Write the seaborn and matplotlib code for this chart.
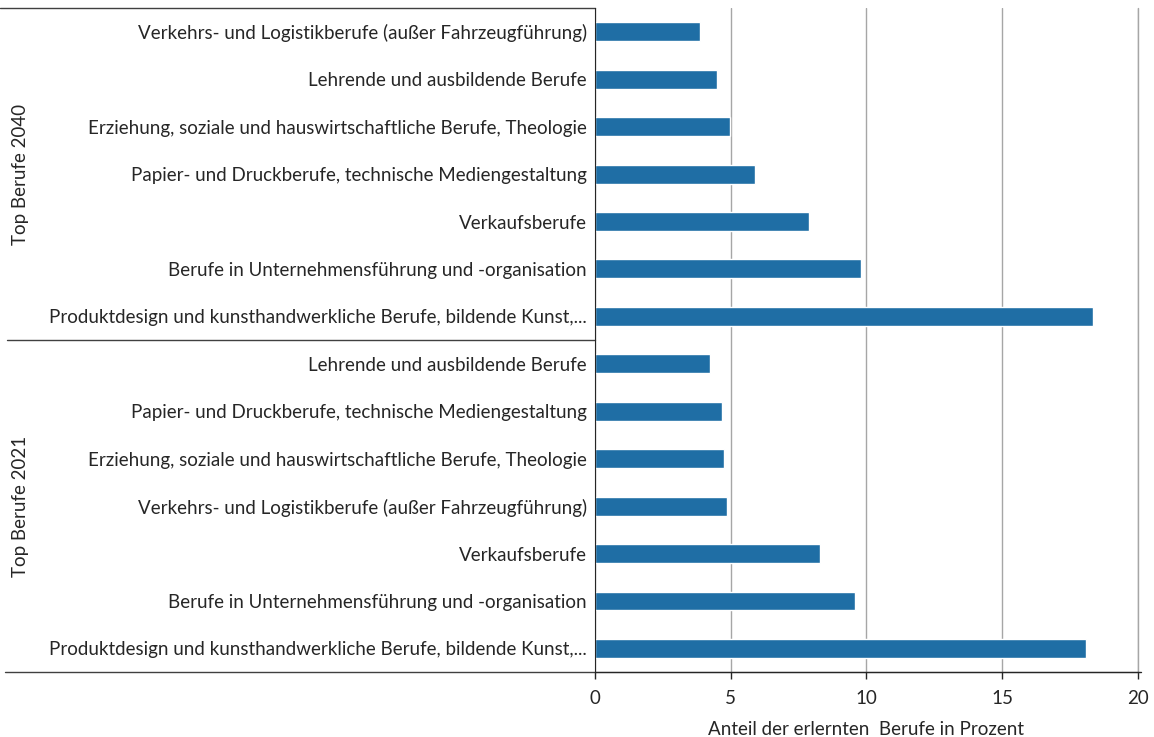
import pandas as pd
import matplotlib.pyplot as plt
import matplotlib.transforms as mtransforms
import seaborn as sns

groups = ['Top Berufe 2040'] * 7 + ['Top Berufe 2021'] * 7
berufe = [
    'Verkehrs- und Logistikberufe (außer Fahrzeugführung)',
    'Lehrende und ausbildende Berufe',
    'Erziehung, soziale und hauswirtschaftliche Berufe, Theologie',
    'Papier- und Druckberufe, technische Mediengestaltung',
    'Verkaufsberufe',
    'Berufe in Unternehmensführung und -organisation',
    'Produktdesign und kunsthandwerkliche Berufe, bildende Kunst,...',
    'Lehrende und ausbildende Berufe',
    'Papier- und Druckberufe, technische Mediengestaltung',
    'Erziehung, soziale und hauswirtschaftliche Berufe, Theologie',
    'Verkehrs- und Logistikberufe (außer Fahrzeugführung)',
    'Verkaufsberufe',
    'Berufe in Unternehmensführung und -organisation',
    'Produktdesign und kunsthandwerkliche Berufe, bildende Kunst,...',
]
anteil = [3.85, 4.49, 4.97, 5.88, 7.90, 9.80, 18.33,
          4.22, 4.67, 4.77, 4.86, 8.30, 9.57, 18.09]

df = pd.DataFrame({'gruppe': groups, 'beruf': berufe, 'anteil': anteil})
df['key'] = df['gruppe'] + '|' + df['beruf']

sns.set_style('white')
plt.rcParams['font.family'] = ['Lato', 'DejaVu Sans']
fs = 13.5

fig = plt.figure(figsize=(11.54, 7.37), dpi=100)
ax = fig.add_axes([0.5156, 0.088, 0.4705, 0.901])

sns.barplot(data=df, x='anteil', y='key', order=list(df['key']),
            color='#1f6ea5', saturation=1, width=0.4, ax=ax, zorder=3)

ax.set_xlim(0, 20)
ax.set_ylim(len(df) - 0.5, -0.5)
ax.set_xticks([0, 5, 10, 15, 20])
ax.xaxis.grid(True, color='#a6a6a6', linewidth=1)
ax.axvline(20, color='#a6a6a6', linewidth=1, clip_on=False, zorder=1)
ax.set_axisbelow(True)
ax.set_yticks(range(len(df)))
ax.set_yticklabels(df['beruf'], fontsize=fs, color='#262626')
ax.tick_params(axis='y', length=0, pad=6)
ax.tick_params(axis='x', length=5, width=1, color='#262626', direction='out',
               labelsize=fs, labelcolor='#262626', pad=8, bottom=True)
ax.set_xlabel('Anteil der erlernten  Berufe in Prozent', fontsize=fs,
              color='#262626', labelpad=10)
ax.set_ylabel('')

for side in ['top', 'right']:
    ax.spines[side].set_visible(False)
for side in ['left', 'bottom']:
    ax.spines[side].set_color('#262626')
    ax.spines[side].set_zorder(5)
ax.spines['bottom'].set_bounds(0, 20)

# Gruppenlinien links und unten
trans = mtransforms.blended_transform_factory(ax.transAxes, ax.transData)
for yy, x0 in [(-0.5, -1.096), (6.5, -1.083), (13.5, -1.087)]:
    ax.plot([x0, 0], [yy, yy], transform=trans, color='#404040',
            linewidth=1, clip_on=False, zorder=5)
ax.plot([0, 1.0055], [13.5, 13.5], transform=trans, color='#262626',
        linewidth=1, clip_on=False, zorder=5)

tlab = mtransforms.blended_transform_factory(fig.transFigure, ax.transData)
for name, yc in [('Top Berufe 2040', 3), ('Top Berufe 2021', 10)]:
    ax.text(0.0175, yc, name, transform=tlab, rotation=90, ha='center',
            va='center', fontsize=fs, color='#262626')

fig.savefig('out.png', dpi=100)
